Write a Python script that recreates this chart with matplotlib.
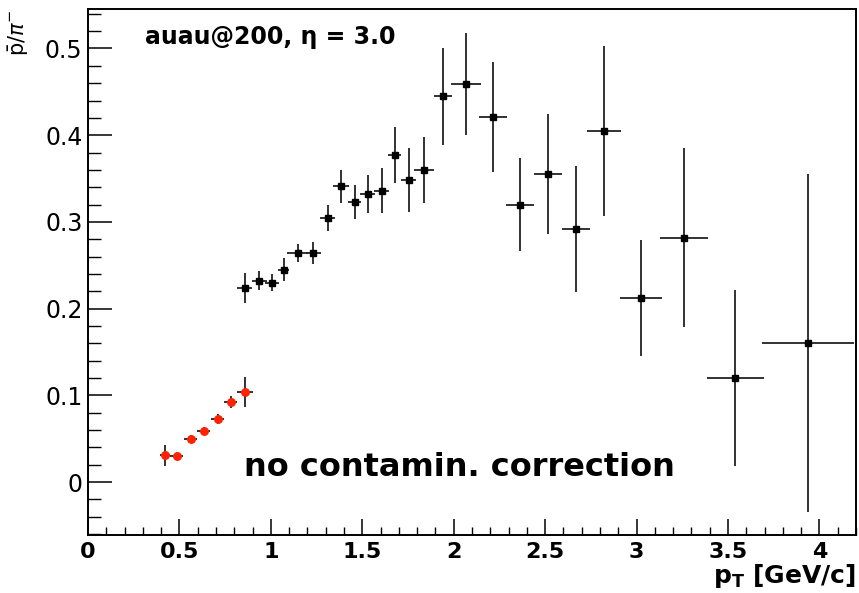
"""pbar/pi- ratio versus pT, Au+Au at 200 GeV, eta = 3.0."""

import matplotlib
matplotlib.use("Agg")
import matplotlib.pyplot as plt
from matplotlib.ticker import MultipleLocator, FixedLocator, FixedFormatter

# black points (main pT range)
pt_black = [0.857, 0.937, 1.005, 1.070, 1.146, 1.233, 1.310, 1.382, 1.459,
            1.529, 1.606, 1.677, 1.755, 1.840, 1.942, 2.067, 2.214, 2.363,
            2.518, 2.667, 2.823, 3.025, 3.259, 3.540, 3.937]
ratio_black = [0.224, 0.232, 0.230, 0.245, 0.264, 0.264, 0.304, 0.341, 0.323,
               0.332, 0.336, 0.377, 0.348, 0.360, 0.445, 0.459, 0.421, 0.320,
               0.355, 0.292, 0.405, 0.212, 0.282, 0.120, 0.160]
yerr_black = [0.017, 0.011, 0.010, 0.013, 0.010, 0.013, 0.015, 0.019, 0.020,
              0.022, 0.026, 0.032, 0.037, 0.038, 0.056, 0.059, 0.063, 0.054,
              0.069, 0.073, 0.098, 0.067, 0.103, 0.102, 0.195]
xerr_black = [0.042, 0.041, 0.038, 0.030, 0.056, 0.043, 0.040, 0.043, 0.035,
              0.040, 0.040, 0.035, 0.041, 0.055, 0.049, 0.082, 0.077, 0.076,
              0.077, 0.077, 0.093, 0.114, 0.130, 0.156, 0.250]

# red points (low pT)
pt_red = [0.421, 0.485, 0.561, 0.634, 0.710, 0.781, 0.859]
ratio_red = [0.031, 0.030, 0.050, 0.059, 0.073, 0.092, 0.104]
yerr_red = [0.012, 0.004, 0.004, 0.004, 0.006, 0.007, 0.017]
xerr_red = [0.025, 0.035, 0.036, 0.036, 0.036, 0.035, 0.044]

x_ticks = [0, 0.5, 1, 1.5, 2, 2.5, 3, 3.5, 4]
x_tick_labels = ["0", "0.5", "1", "1.5", "2", "2.5", "3", "3.5", "4"]
y_ticks = [0, 0.1, 0.2, 0.3, 0.4, 0.5]
y_tick_labels = ["0", "0.1", "0.2", "0.3", "0.4", "0.5"]

plt.rcParams["font.family"] = ["DejaVu Sans"]

fig = plt.figure(figsize=(8.59, 5.93), dpi=100)
ax = fig.add_axes([0.1024, 0.0978, 0.8941, 0.887])

err_style = dict(fmt="none", ecolor="#222222", elinewidth=1.3, capsize=0)
ax.errorbar(pt_black, ratio_black, yerr=yerr_black, xerr=xerr_black, **err_style)
ax.plot(pt_black, ratio_black, "s", color="black", markersize=4.8, zorder=3)
ax.errorbar(pt_red, ratio_red, yerr=yerr_red, xerr=xerr_red, **err_style)
ax.plot(pt_red, ratio_red, "o", color="#ff2200", markersize=5.4, zorder=3)

ax.set_xlim(0, 4.2)
ax.set_ylim(-0.061, 0.5455)

ax.xaxis.set_major_locator(FixedLocator(x_ticks))
ax.xaxis.set_major_formatter(FixedFormatter(x_tick_labels))
ax.xaxis.set_minor_locator(MultipleLocator(0.1))
ax.yaxis.set_major_locator(FixedLocator(y_ticks))
ax.yaxis.set_major_formatter(FixedFormatter(y_tick_labels))
ax.yaxis.set_minor_locator(MultipleLocator(0.02))

ax.tick_params(axis="x", which="major", direction="in", length=11.5, width=1.1,
               labelsize=16, pad=5, top=False)
ax.tick_params(axis="x", which="minor", direction="in", length=5.8, width=1.0, top=False)
ax.tick_params(axis="y", which="major", direction="in", length=17, width=1.1,
               labelsize=17, pad=4, right=False)
ax.tick_params(axis="y", which="minor", direction="in", length=9, width=1.0, right=False)
for lab in ax.get_xticklabels():
    lab.set_fontweight("bold")

for sp in ax.spines.values():
    sp.set_linewidth(1.4)
    sp.set_color("black")

# axis titles
ax.text(1.0, -0.091, r"p$_\mathbf{T}$ [GeV/c]", transform=ax.transAxes,
        ha="right", va="baseline", fontsize=18, fontweight="bold")
fig.text(0.022, 0.984, r"$\bar{\mathrm{p}}/\pi^{-}$", rotation=90,
         ha="center", va="top", fontsize=15)

ax.text(0.074, 0.947, "auau@200, η = 3.0", transform=ax.transAxes,
        ha="left", va="center", fontsize=17, fontweight="bold")
ax.text(0.203, 0.129, "no contamin. correction", transform=ax.transAxes,
        ha="left", va="center", fontsize=23, fontweight="bold")

fig.savefig("out.png", dpi=100)
